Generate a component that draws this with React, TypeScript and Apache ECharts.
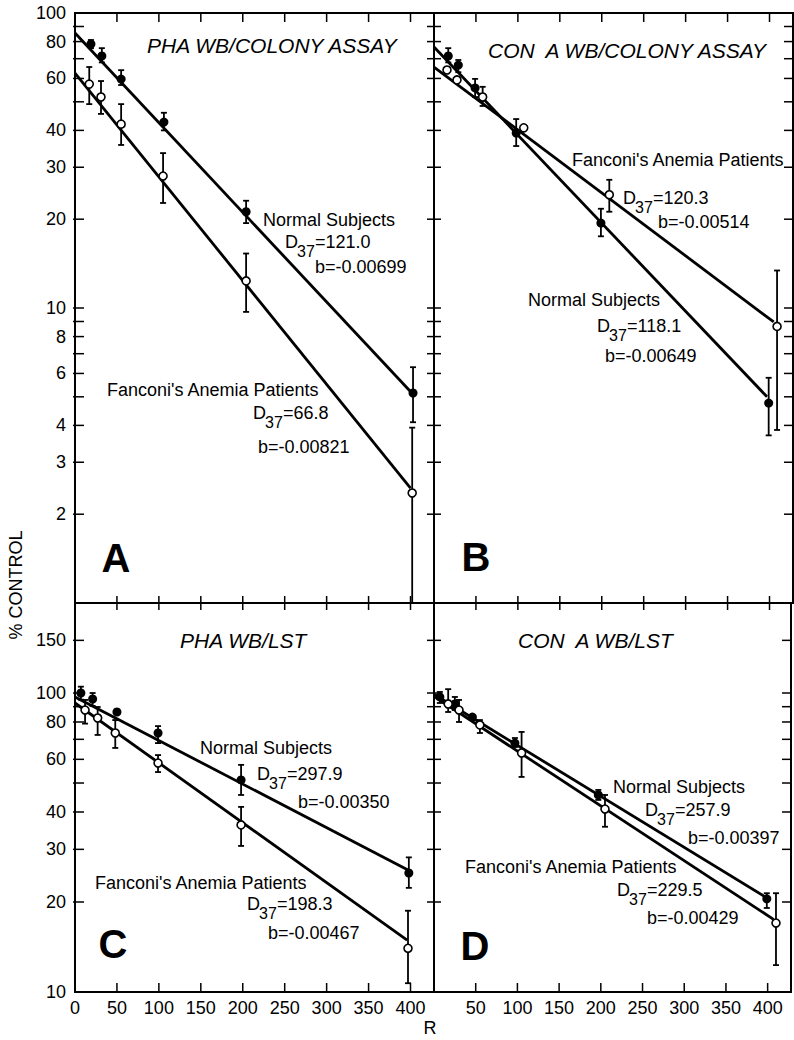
import React, { useEffect, useRef } from "react";
import * as echarts from "echarts";

const FONT = '"Liberation Sans", Arial, sans-serif';
const X_MAX = 428;

// ---- axis ticks / labels ----
const X_TICKS = [50, 100, 150, 200, 250, 300, 350, 400];
const Y_TICKS_COLONY = [2, 3, 4, 5, 6, 7, 8, 9, 10, 20, 30, 40, 50, 60, 70, 80, 90];
const Y_LABELS_COLONY = [100, 80, 60, 40, 30, 20, 10, 8, 6, 4, 3, 2];
const Y_TICKS_LST = [20, 30, 40, 50, 60, 70, 80, 90, 100, 150];
const Y_LABELS_LST = [150, 100, 80, 60, 40, 30, 20, 10];

// ---- Panel A: PHA WB / colony assay ----
const A_NORMAL_X = [19, 32, 55, 106, 204, 403];
const A_NORMAL_Y = [78.5, 71.5, 59.7, 42.7, 21.2, 5.15];
const A_NORMAL_LO = [76, 68, 57, 40, 19.4, 4.1];
const A_NORMAL_HI = [81, 76, 64, 45.9, 23.1, 6.3];
const A_FANCONI_X = [17, 31, 55, 105, 204, 402];
const A_FANCONI_Y = [57.4, 51.9, 42.0, 28.0, 12.35, 2.36];
const A_FANCONI_LO = [49.1, 45.5, 35.7, 22.7, 9.7, 1];
const A_FANCONI_HI = [65.6, 58.8, 49.1, 33.5, 15.3, 3.93];
const A_NORMAL_FIT = [[0, 85.5], [403, 5.1]];
const A_FANCONI_FIT = [[0, 62.6], [400, 2.45]];

// ---- Panel B: Con A WB / colony assay ----
const B_NORMAL_X = [17, 29, 49, 98, 199, 399];
const B_NORMAL_Y = [71.5, 66.6, 55.7, 39.2, 19.4, 4.76];
const B_NORMAL_LO = [68, 63, 51.9, 35.4, 17.5, 3.7];
const B_NORMAL_HI = [76, 69.3, 59.8, 43.7, 21.7, 5.8];
const B_FANCONI_X = [15.5, 27.4, 58, 107, 209, 409];
const B_FANCONI_Y = [64.1, 59.3, 51.9, 40.8, 24.2, 8.66];
const B_FANCONI_LO = [null, null, 48.4, null, 21.2, 3.86];
const B_FANCONI_HI = [null, null, 56.2, null, 27.2, 13.4];
const B_NORMAL_FIT = [[0, 76.7], [397, 5.0]];
const B_FANCONI_FIT = [[0, 65.6], [405, 8.97]];

// ---- Panel C: PHA WB / LST ----
const C_NORMAL_X = [7, 21, 50, 99, 198, 398];
const C_NORMAL_Y = [100, 95.5, 86.4, 73.5, 51.2, 25.0];
const C_NORMAL_LO = [95, 90.5, null, 68, 45.6, 22.3];
const C_NORMAL_HI = [105, 100, null, 77.5, 57.5, 28.2];
const C_FANCONI_X = [12, 27, 48, 99, 198, 397];
const C_FANCONI_Y = [87.7, 82.5, 73.5, 58.3, 36.2, 14.0];
const C_FANCONI_LO = [79, 72.4, 65.5, 54.4, 30.8, 10.7];
const C_FANCONI_HI = [94.8, 89.8, 81.2, 62.0, 41.6, 18.7];
const C_NORMAL_FIT = [[0, 97], [397, 25.6]];
const C_FANCONI_FIT = [[0, 92.6], [396, 14.9]];

// ---- Panel D: Con A WB / LST ----
const D_NORMAL_X = [7, 25, 46, 97, 197, 399];
const D_NORMAL_Y = [97, 91.9, 83.1, 68.0, 45.6, 20.5];
const D_NORMAL_LO = [92.6, 87.7, null, 66, 43.9, 19.1];
const D_NORMAL_HI = [100.8, 97, null, 70.7, 47.4, 21.4];
const D_FANCONI_X = [17, 30, 55, 105, 205, 410];
const D_FANCONI_Y = [91.9, 87.7, 78.2, 63.0, 40.9, 17.0];
const D_FANCONI_LO = [86.4, 80, 73.5, 52.4, 35.7, 12.3];
const D_FANCONI_HI = [103, 94.8, 81.2, 74.1, 45.6, 21.4];
const D_NORMAL_FIT = [[0, 99], [397, 20.8]];
const D_FANCONI_FIT = [[0, 97.5], [407, 17.5]];

// ---- texts ----
const TITLES = ["PHA WB/COLONY ASSAY", "CON  A WB/COLONY ASSAY", "PHA WB/LST", "CON  A WB/LST"];
const LETTERS = ["A", "B", "C", "D"];
const GROUP_NORMAL = "Normal Subjects";
const GROUP_FANCONI = "Fanconi's Anemia Patients";
const D37_NORMAL = ["121.0", "118.1", "297.9", "257.9"];
const D37_FANCONI = ["66.8", "120.3", "198.3", "229.5"];
const B_NORMAL = ["-0.00699", "-0.00649", "-0.00350", "-0.00397"];
const B_FANCONI = ["-0.00821", "-0.00514", "-0.00467", "-0.00429"];

const PANELS = [
  { nx: A_NORMAL_X, ny: A_NORMAL_Y, nlo: A_NORMAL_LO, nhi: A_NORMAL_HI, fx: A_FANCONI_X, fy: A_FANCONI_Y, flo: A_FANCONI_LO, fhi: A_FANCONI_HI, nfit: A_NORMAL_FIT, ffit: A_FANCONI_FIT },
  { nx: B_NORMAL_X, ny: B_NORMAL_Y, nlo: B_NORMAL_LO, nhi: B_NORMAL_HI, fx: B_FANCONI_X, fy: B_FANCONI_Y, flo: B_FANCONI_LO, fhi: B_FANCONI_HI, nfit: B_NORMAL_FIT, ffit: B_FANCONI_FIT },
  { nx: C_NORMAL_X, ny: C_NORMAL_Y, nlo: C_NORMAL_LO, nhi: C_NORMAL_HI, fx: C_FANCONI_X, fy: C_FANCONI_Y, flo: C_FANCONI_LO, fhi: C_FANCONI_HI, nfit: C_NORMAL_FIT, ffit: C_FANCONI_FIT },
  { nx: D_NORMAL_X, ny: D_NORMAL_Y, nlo: D_NORMAL_LO, nhi: D_NORMAL_HI, fx: D_FANCONI_X, fy: D_FANCONI_Y, flo: D_FANCONI_LO, fhi: D_FANCONI_HI, nfit: D_NORMAL_FIT, ffit: D_FANCONI_FIT },
];

const GRIDS = [
  { left: 75, top: 13, width: 359, height: 590 },
  { left: 434, top: 13, width: 359, height: 590 },
  { left: 75, top: 603, width: 359, height: 389 },
  { left: 434, top: 603, width: 359, height: 389 },
];
const Y_RANGE = [[1, 100], [1, 100], [10, 200], [10, 200]];

// tick modes: [left, right, top, bottom]
const TICK_MODES = [
  ["in", "none", "in", "cross"],
  ["cross", "in", "in", "cross"],
  ["in", "none", "none", "in"],
  ["cross", "in", "none", "in"],
];

const BLACK = "#000";
const seg = (x1: number, y1: number, x2: number, y2: number, w = 1.5) => ({
  type: "line",
  shape: { x1, y1, x2, y2 },
  style: { stroke: BLACK, lineWidth: w },
});

function txt(x: number, y: number, text: string, size = 18, extra: any = {}, el: any = {}) {
  return {
    type: "text",
    x,
    y,
    ...el,
    style: {
      text,
      fill: BLACK,
      fontSize: size,
      fontFamily: FONT,
      align: "left",
      verticalAlign: "middle",
      textAlign: "left",
      textVerticalAlign: "middle",
      ...extra,
    },
  };
}

function buildOption() {
  const series: any[] = [];
  const xAxis: any[] = [];
  const yAxis: any[] = [];

  GRIDS.forEach((g, gi) => {
    xAxis.push({
      gridIndex: gi,
      type: "value",
      min: 0,
      max: X_MAX,
      interval: 50,
      axisLine: { show: false },
      axisTick: { show: false },
      splitLine: { show: false },
      axisLabel: {
        show: gi >= 2,
        color: BLACK,
        fontSize: 18,
        fontFamily: FONT,
        margin: 7,
        formatter: (v: number) => (v % 50 === 0 && !(gi === 3 && v === 0) ? String(v) : ""),
      },
    });
    yAxis.push({
      gridIndex: gi,
      type: "log",
      logBase: 10,
      min: Y_RANGE[gi][0],
      max: Y_RANGE[gi][1],
      axisLine: { show: false },
      axisTick: { show: false },
      axisLabel: { show: false },
      splitLine: { show: false },
    });

    const modes = TICK_MODES[gi];
    const yTicks = gi < 2 ? Y_TICKS_COLONY : Y_TICKS_LST;
    const yMin = Y_RANGE[gi][0];
    const yMax = Y_RANGE[gi][1];

    // y ticks
    series.push({
      type: "custom",
      xAxisIndex: gi,
      yAxisIndex: gi,
      z: 1,
      silent: true,
      data: yTicks.map((v) => [0, v]),
      renderItem: (params: any, api: any) => {
        const v = api.value(1);
        const pl = api.coord([0, v]);
        const pr = api.coord([X_MAX, v]);
        const ch: any[] = [];
        if (modes[0] === "in") ch.push(seg(pl[0] - 2, pl[1], pl[0] + 9, pl[1]));
        if (modes[0] === "cross") ch.push(seg(pl[0] - 7, pl[1], pl[0] + 7, pl[1]));
        if (modes[1] === "in") ch.push(seg(pr[0] - 9, pr[1], pr[0], pr[1]));
        return { type: "group", children: ch };
      },
    });
    // x ticks
    series.push({
      type: "custom",
      xAxisIndex: gi,
      yAxisIndex: gi,
      z: 1,
      silent: true,
      data: X_TICKS.map((v) => [v, yMin]),
      renderItem: (params: any, api: any) => {
        const v = api.value(0);
        const pb = api.coord([v, yMin]);
        const pt = api.coord([v, yMax]);
        const ch: any[] = [];
        if (modes[2] === "in") ch.push(seg(pt[0], pt[1], pt[0], pt[1] + 9));
        if (modes[3] === "cross") ch.push(seg(pb[0], pb[1] - 7, pb[0], pb[1] + 7));
        if (modes[3] === "in") ch.push(seg(pb[0], pb[1] - 9, pb[0], pb[1]));
        return { type: "group", children: ch };
      },
    });
    // y labels (A and C)
    if (gi === 0 || gi === 2) {
      const labels = gi === 0 ? Y_LABELS_COLONY : Y_LABELS_LST;
      series.push({
        type: "custom",
        xAxisIndex: gi,
        yAxisIndex: gi,
        z: 1,
        silent: true,
        data: labels.map((v) => [0, v]),
        renderItem: (params: any, api: any) => {
          const v = api.value(1);
          const p = api.coord([0, v]);
          return txt(p[0] - 9, p[1], String(v), 18, { align: "right", textAlign: "right" });
        },
      });
    }

    const P = PANELS[gi];
    // fitted lines
    [P.nfit, P.ffit].forEach((fit) => {
      series.push({
        type: "line",
        xAxisIndex: gi,
        yAxisIndex: gi,
        z: 2,
        silent: true,
        symbol: "none",
        data: fit,
        lineStyle: { color: BLACK, width: 2.8 },
      });
    });
    // error bars
    [
      [P.nx, P.nlo, P.nhi],
      [P.fx, P.flo, P.fhi],
    ].forEach(([xs, lo, hi]: any) => {
      series.push({
        type: "custom",
        xAxisIndex: gi,
        yAxisIndex: gi,
        z: 3,
        silent: true,
        data: xs
          .map((x: number, i: number) => (lo[i] == null ? null : [x, lo[i], hi[i]]))
          .filter((d: any) => d !== null),
        renderItem: (params: any, api: any) => {
          const x = api.value(0);
          const a = api.coord([x, api.value(2)]);
          const b = api.coord([x, api.value(1)]);
          return {
            type: "group",
            children: [
              seg(a[0], a[1], b[0], b[1], 1.8),
              seg(a[0] - 3, a[1], a[0] + 3, a[1], 1.8),
              seg(b[0] - 3, b[1], b[0] + 3, b[1], 1.8),
            ],
          };
        },
      });
    });
    // points
    series.push({
      type: "scatter",
      xAxisIndex: gi,
      yAxisIndex: gi,
      z: 4,
      silent: true,
      symbol: "circle",
      symbolSize: 9,
      itemStyle: { color: BLACK, opacity: 1 },
      data: P.nx.map((x: number, i: number) => [x, P.ny[i]]),
    });
    series.push({
      type: "scatter",
      xAxisIndex: gi,
      yAxisIndex: gi,
      z: 4,
      silent: true,
      symbol: "circle",
      symbolSize: 8,
      itemStyle: { color: "#fff", borderColor: BLACK, borderWidth: 1.6, opacity: 1 },
      data: P.fx.map((x: number, i: number) => [x, P.fy[i]]),
    });
  });

  // ---- annotations (graphic) ----
  const graphics: any[] = [];
  const titlePos = [
    [147, 45],
    [488, 50],
    [180, 640],
    [518, 640],
  ];
  TITLES.forEach((t, i) => {
    graphics.push(txt(titlePos[i][0], titlePos[i][1], t, 21, { fontStyle: "italic" }));
  });
  const letterPos = [
    [116, 558],
    [476, 557],
    [113, 944],
    [475, 946],
  ];
  LETTERS.forEach((l, i) => {
    graphics.push(
      txt(letterPos[i][0], letterPos[i][1], l, 40, { fontWeight: "bold", align: "center", textAlign: "center" })
    );
  });
  // [nameX, nameY, dX, dY, bX, bY]
  const annNormal = [
    [263, 220, 285, 242, 315, 267],
    [528, 300, 597, 326, 605, 356],
    [200, 748, 257, 774, 298, 802],
    [613, 787, 645, 810, 688, 838],
  ];
  const annFanconi = [
    [107, 390, 253, 413, 258, 447],
    [572, 160, 623, 198, 658, 222],
    [95, 883, 247, 904, 268, 933],
    [465, 867, 617, 890, 647, 918],
  ];
  const addAnn = (pos: number[], name: string, d37: string, b: string) => {
    graphics.push(txt(pos[0], pos[1], name));
    graphics.push(txt(pos[2], pos[3], "D"));
    graphics.push(txt(pos[2] + 12, pos[3] + 9, "37", 16));
    graphics.push(txt(pos[2] + 30, pos[3], "=" + d37));
    graphics.push(txt(pos[4], pos[5], "b=" + b));
  };
  for (let i = 0; i < 4; i++) {
    addAnn(annNormal[i], GROUP_NORMAL, D37_NORMAL[i], B_NORMAL[i]);
    addAnn(annFanconi[i], GROUP_FANCONI, D37_FANCONI[i], B_FANCONI[i]);
  }
  graphics.push(
    txt(16, 585, "% CONTROL", 18, { align: "center", textAlign: "center" }, { rotation: Math.PI / 2 })
  );
  graphics.push(txt(430, 1028, "R", 18, { align: "center", textAlign: "center" }));

  return {
    animation: false,
    backgroundColor: "#fff",
    grid: GRIDS.map((g) => ({
      ...g,
      show: true,
      borderColor: BLACK,
      borderWidth: 2,
      backgroundColor: "transparent",
      containLabel: false,
    })),
    xAxis,
    yAxis,
    series,
    graphic: graphics,
  };
}

export default function App() {
  const ref = useRef<HTMLDivElement>(null);
  useEffect(() => {
    if (!ref.current) return;
    const chart = echarts.init(ref.current, null, { renderer: "svg" });
    chart.setOption(buildOption() as any);
    return () => chart.dispose();
  }, []);
  return (
    <div
      ref={ref}
      style={{ position: "absolute", left: 0, top: 0, width: 794, height: 1040, background: "#fff" }}
    />
  );
}
